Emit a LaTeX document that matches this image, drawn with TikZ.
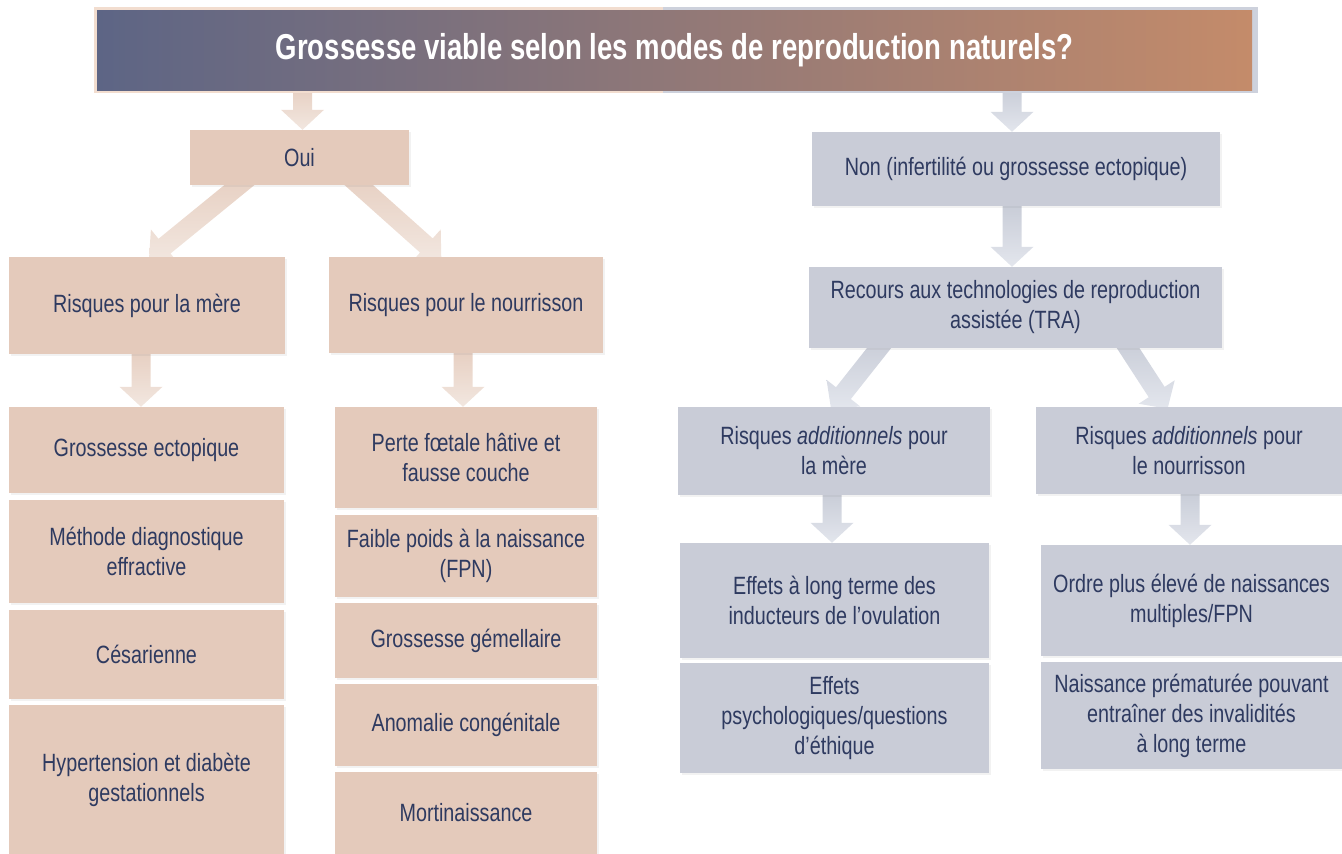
\documentclass[tikz,border=0pt]{standalone}
\usepackage{fontspec}
\setmainfont{Liberation Sans}[FakeStretch=0.79]
\newfontfamily\titlefont{Liberation Sans}[FakeStretch=0.765]
\usetikzlibrary{calc,shadows}
\pgfdeclarelayer{background}
\pgfsetlayers{background,main}
\definecolor{peach}{HTML}{E4CABB}
\definecolor{greyb}{HTML}{C9CCD7}
\definecolor{ink}{HTML}{2E3A60}
\definecolor{bannerL}{HTML}{5D6585}
\definecolor{bannerR}{HTML}{C48B6A}
\definecolor{frameP}{HTML}{F2DDCF}
\definecolor{frameG}{HTML}{CDD1DC}
\definecolor{parrowT}{HTML}{E6CEC0}
\definecolor{parrowB}{HTML}{F2E7E0}
\definecolor{garrowT}{HTML}{C7CBD6}
\definecolor{garrowB}{HTML}{E3E6ED}
\newcommand\blockarrow[4]{%
  \coordinate (ahd) at ($(#4)!20pt!(#3)$);
  \path[top color=#1, bottom color=#2]
    ($(#3)!9.5pt!90:(#4)$) -- ($(ahd)!9.5pt!90:(#4)$) -- ($(ahd)!21.5pt!90:(#4)$)
    -- (#4) -- ($(ahd)!21.5pt!-90:(#4)$) -- ($(ahd)!9.5pt!-90:(#4)$)
    -- ($(#3)!9.5pt!-90:(#4)$) -- cycle;
}
\tikzset{
  box/.style={inner sep=0pt, align=center, text=ink,
    font=\fontsize{25}{30}\selectfont,
    drop shadow={shadow xshift=2pt, shadow yshift=-2pt, opacity=0.10}},
  pbox/.style={box, fill=peach},
  gbox/.style={box, fill=greyb},
}
\begin{document}
\begin{tikzpicture}[x=1pt,y=-1pt]
\useasboundingbox (0,0) rectangle (1342,854);
% banner frame
\fill[frameP] (94,7) rectangle (663,93);
\fill[frameG] (663,7) rectangle (1258,93);
\node[inner sep=0pt, minimum width=1155pt, minimum height=80pt,
      left color=bannerL, right color=bannerR, text=white,
      font=\titlefont\bfseries\fontsize{36}{40}\selectfont] (title) at (674.5,50)
      {\raisebox{-6pt}{Grossesse viable selon les modes de reproduction naturels?}};
% left (Oui) branch
\node[pbox, minimum width=219pt, minimum height=55pt] (oui) at (299.5,157.5) {Oui};
\node[pbox, minimum width=276pt, minimum height=97pt] (rm) at (147,305.5) {Risques pour la mère};
\node[pbox, minimum width=274pt, minimum height=96pt] (rn) at (466,305) {Risques pour le nourrisson};
\node[pbox, minimum width=275pt, minimum height=86pt] (l1) at (146.5,450) {Grossesse ectopique};
\node[pbox, minimum width=275pt, minimum height=103pt] (l2) at (146.5,551.5) {Méthode diagnostique\\effractive};
\node[pbox, minimum width=275pt, minimum height=89pt] (l3) at (146.5,654.5) {Césarienne};
\node[pbox, minimum width=275pt, minimum height=149pt] (l4) at (146.5,779.5) {Hypertension et diabète\\gestationnels};
\node[pbox, minimum width=262pt, minimum height=101pt] (m1) at (466,457.5) {Perte fœtale hâtive et\\fausse couche};
\node[pbox, minimum width=262pt, minimum height=82pt] (m2) at (466,556) {Faible poids à la naissance\\(FPN)};
\node[pbox, minimum width=262pt, minimum height=75pt] (m3) at (466,640.5) {Grossesse gémellaire};
\node[pbox, minimum width=262pt, minimum height=82pt] (m4) at (466,725) {Anomalie congénitale};
\node[pbox, minimum width=262pt, minimum height=82pt] (m5) at (466,813) {Mortinaissance};
% right (Non) branch
\node[gbox, minimum width=408pt, minimum height=74pt] (non) at (1016,169) {Non (infertilité ou grossesse ectopique)};
\node[gbox, minimum width=413pt, minimum height=81pt] (tra) at (1015.5,307.5) {Recours aux technologies de reproduction\\assistée (TRA)};
\node[gbox, minimum width=312pt, minimum height=88pt] (ram) at (834,451) {Risques \textit{additionnels} pour\\la mère};
\node[gbox, minimum width=306pt, minimum height=87pt] (ran) at (1189,450.5) {Risques \textit{additionnels} pour\\le nourrisson};
\node[gbox, minimum width=309pt, minimum height=115pt] (g1) at (834.5,600.5) {Effets à long terme des\\inducteurs de l’ovulation};
\node[gbox, minimum width=309pt, minimum height=110pt] (g2) at (834.5,718) {Effets\\psychologiques/questions\\d’éthique};
\node[gbox, minimum width=301pt, minimum height=111pt] (g3) at (1191.5,600.5) {Ordre plus élevé de naissances\\multiples/FPN};
\node[gbox, minimum width=301pt, minimum height=107pt] (g4) at (1191.5,715.5) {Naissance prématurée pouvant\\entraîner des invalidités\\à long terme};
% arrows
\begin{pgfonlayer}{background}
  \coordinate (a1s) at ($(title.south -| oui.north)+(3,-5)$);
  \coordinate (a1e) at ($(oui.north)+(3,0)$);
  \blockarrow{parrowT}{parrowB}{a1s}{a1e}
  \coordinate (a2s) at ($(oui.south west)!0.27!(oui.south east)+(0,-8)$);
  \coordinate (a2e) at ($(rm.north)+(2,2)$);
  \blockarrow{parrowT}{parrowB}{a2s}{a2e}
  \coordinate (a3s) at ($(oui.south west)!0.73!(oui.south east)+(0,-8)$);
  \coordinate (a3e) at ($(rn.north west)!0.41!(rn.north east)+(0,2)$);
  \blockarrow{parrowT}{parrowB}{a3s}{a3e}
  \coordinate (a4s) at ($(rm.south)+(-6,-5)$);
  \coordinate (a4e) at (l1.north -| a4s);
  \blockarrow{parrowT}{parrowB}{a4s}{a4e}
  \coordinate (a5s) at ($(rn.south)+(-3,-5)$);
  \coordinate (a5e) at (m1.north -| a5s);
  \blockarrow{parrowT}{parrowB}{a5s}{a5e}
  \coordinate (b1s) at ($(title.south -| non.north)+(-4,-5)$);
  \coordinate (b1e) at ($(non.north)+(-4,0)$);
  \blockarrow{garrowT}{garrowB}{b1s}{b1e}
  \coordinate (b2s) at ($(non.south)+(-4,-5)$);
  \coordinate (b2e) at (tra.north -| b2s);
  \blockarrow{garrowT}{garrowB}{b2s}{b2e}
  \coordinate (b3s) at ($(tra.south west)!0.185!(tra.south east)+(0,-8)$);
  \coordinate (b3e) at ($(ram.north)+(-3,2)$);
  \blockarrow{garrowT}{garrowB}{b3s}{b3e}
  \coordinate (b4s) at ($(tra.south west)!0.76!(tra.south east)+(0,-8)$);
  \coordinate (b4e) at ($(ran.north west)!0.43!(ran.north east)+(0,2)$);
  \blockarrow{garrowT}{garrowB}{b4s}{b4e}
  \coordinate (b5s) at ($(ram.south)+(-2,-5)$);
  \coordinate (b5e) at (g1.north -| b5s);
  \blockarrow{garrowT}{garrowB}{b5s}{b5e}
  \coordinate (b6s) at ($(ran.south)+(1,-5)$);
  \coordinate (b6e) at (g3.north -| b6s);
  \blockarrow{garrowT}{garrowB}{b6s}{b6e}
\end{pgfonlayer}
\end{tikzpicture}
\end{document}
